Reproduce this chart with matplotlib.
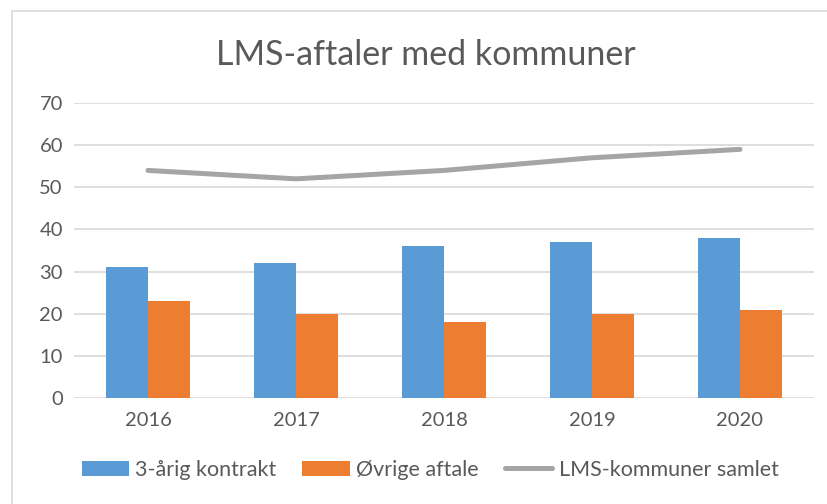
import matplotlib
matplotlib.use("Agg")
import matplotlib.pyplot as plt
from matplotlib.patches import Rectangle
import numpy as np

years = ["2016", "2017", "2018", "2019", "2020"]
treaarig = [31, 32, 36, 37, 38]
oevrige = [23, 20, 18, 20, 21]
samlet = [54, 52, 54, 57, 59]
yticks = [0, 10, 20, 30, 40, 50, 60, 70]

plt.rcParams['font.family'] = ['Lato', 'DejaVu Sans']
txt = '#595959'

fig = plt.figure(figsize=(8.28, 5.04), dpi=100)
fig.patch.set_facecolor('white')
fig.patches.append(Rectangle((12/828, -0.1), 1.1, 1 - 11/504 + 0.1, transform=fig.transFigure,
                             fill=False, edgecolor='#D9D9D9', linewidth=1.2))
ax = fig.add_axes([74/828, 1 - 398/504, 740/828, 295/504])

x = np.arange(len(years))
w = 42/148
b1 = ax.bar(x - w/2, treaarig, w, color='#5B9BD5', label='3-årig kontrakt', zorder=3)
b2 = ax.bar(x + w/2, oevrige, w, color='#ED7D31', label='Øvrige aftale', zorder=3)
l1, = ax.plot(x, samlet, color='#A5A5A5', linewidth=3.6, solid_capstyle='round',
              label='LMS-kommuner samlet', zorder=4)

ax.set_xlim(-0.5, len(years) - 0.5)
ax.set_ylim(0, 70)
ax.set_yticks(yticks)
ax.set_yticklabels([str(v) for v in yticks])
ax.set_xticks(x)
ax.set_xticklabels(years)
ax.grid(axis='y', color='#D9D9D9', linewidth=1.2, zorder=0)
for s in ax.spines.values():
    s.set_visible(False)
ax.tick_params(axis='both', length=0, labelsize=14.5, colors=txt)
ax.tick_params(axis='y', pad=8)
ax.tick_params(axis='x', pad=10)

fig.text(426/828, 1 - 55/504, 'LMS-aftaler med kommuner', ha='center', va='center',
         fontsize=24.5, color=txt)

leg = fig.legend([b1, b2, l1], ['3-årig kontrakt', 'Øvrige aftale', 'LMS-kommuner samlet'],
                 loc='center', bbox_to_anchor=(430/828, 1 - 470/504), ncol=3, frameon=False,
                 fontsize=15.5, labelcolor=txt, handlelength=2.2, handleheight=0.7,
                 columnspacing=1.2, handletextpad=0.3)

fig.savefig('out.png', dpi=100, facecolor='white')
